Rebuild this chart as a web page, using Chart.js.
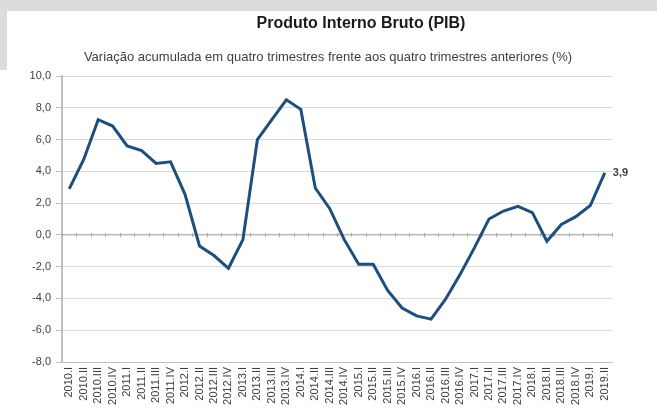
<!DOCTYPE html>
<html>
<head>
<meta charset="utf-8">
<script src="https://cdn.jsdelivr.net/npm/chart.js@4/dist/chart.umd.min.js"></script>
<style>
    body { margin: 0; background: #ffffff; font-family: "Liberation Sans", Arial, sans-serif; }
    #wrap { position: relative; width: 657px; height: 411px; overflow: hidden; background: #ffffff; }
    .band-top { position: absolute; left: 0; top: 0; width: 657px; height: 11px; background: #dcdcdc; }
    .band-left { position: absolute; left: 0; top: 0; width: 7px; height: 70px; background: #dcdcdc; }
    .title { position: absolute; left: 361px; top: 14px; transform: translateX(-50%); white-space: nowrap;
             font-weight: bold; font-size: 16px; color: #1a1a1a; }
    .subtitle { position: absolute; left: 328px; top: 49px; transform: translateX(-50%); white-space: nowrap;
                font-size: 13px; color: #404040; }
    #myChart { position: absolute; left: 0; top: 0; }
</style>
</head>
<body>
<div id="wrap">
    <div class="band-top"></div>
    <div class="band-left"></div>
    <canvas id="myChart" width="657" height="411"></canvas>
    <div class="title">Produto Interno Bruto (PIB)</div>
    <div class="subtitle">Variação acumulada em quatro trimestres frente aos quatro trimestres anteriores (%)</div>
</div>
<script>
var quarters = [
    "2010.I", "2010.II", "2010.III", "2010.IV",
    "2011.I", "2011.II", "2011.III", "2011.IV",
    "2012.I", "2012.II", "2012.III", "2012.IV",
    "2013.I", "2013.II", "2013.III", "2013.IV",
    "2014.I", "2014.II", "2014.III", "2014.IV",
    "2015.I", "2015.II", "2015.III", "2015.IV",
    "2016.I", "2016.II", "2016.III", "2016.IV",
    "2017.I", "2017.II", "2017.III", "2017.IV",
    "2018.I", "2018.II", "2018.III", "2018.IV",
    "2019.I", "2019.II"
];

// variacao acumulada em quatro trimestres (%)
var pib = [
    2.9, 4.75, 7.25, 6.85,
    5.6, 5.3, 4.5, 4.6,
    2.55, -0.7, -1.3, -2.1,
    -0.3, 6.0, 7.25, 8.5,
    7.9, 2.95, 1.65, -0.3,
    -1.85, -1.85, -3.5, -4.6,
    -5.1, -5.3, -4.05, -2.5,
    -0.8, 1.0, 1.5, 1.8,
    1.4, -0.4, 0.66, 1.15,
    1.85, 3.9
];

var yTicks = [-8, -6, -4, -2, 0, 2, 4, 6, 8, 10];

var lineColor = "rgb(30, 78, 124)";

function fmt(v) {
    return v.toFixed(1).replace(".", ",");
}

// linha do zero com as marquinhas de cada trimestre
var zeroLine = {
    id: "zeroLine",
    beforeDatasetsDraw: function(chart) {
        var ctx = chart.ctx;
        var x = chart.scales.x;
        var y0 = chart.scales.y.getPixelForValue(0);
        var step = x.getPixelForValue(1) - x.getPixelForValue(0);
        ctx.save();
        ctx.strokeStyle = "#a6a6a6";
        ctx.lineWidth = 1;
        ctx.beginPath();
        ctx.moveTo(chart.chartArea.left, y0);
        ctx.lineTo(chart.chartArea.right, y0);
        for (var i = 0; i <= quarters.length; i++) {
            var px = Math.round(x.getPixelForValue(i) - step / 2) + 0.5;
            ctx.moveTo(px, y0 - 2);
            ctx.lineTo(px, y0 + 2);
        }
        ctx.stroke();
        ctx.restore();
    }
};

// rotulo do ultimo ponto
var lastLabel = {
    id: "lastLabel",
    afterDatasetsDraw: function(chart) {
        var meta = chart.getDatasetMeta(0);
        var pt = meta.data[meta.data.length - 1];
        var ctx = chart.ctx;
        ctx.save();
        ctx.font = "bold 11px 'Liberation Sans', Arial, sans-serif";
        ctx.fillStyle = "#404040";
        ctx.textBaseline = "middle";
        ctx.fillText(fmt(pib[pib.length - 1]), pt.x + 8, pt.y);
        ctx.restore();
    }
};

var config = {
    type: "line",
    data: {
        labels: quarters,
        datasets: [{
            data: pib,
            borderColor: lineColor,
            borderWidth: 3,
            pointRadius: 0,
            tension: 0,
            fill: false
        }]
    },
    options: {
        responsive: false,
        animation: false,
        layout: { padding: { top: 76, right: 45, left: 0, bottom: 0 } },
        plugins: {
            legend: { display: false },
            tooltip: { enabled: false }
        },
        scales: {
            x: {
                offset: true,
                grid: { display: true, drawOnChartArea: false, drawTicks: false },
                border: { display: true, color: "#bfbfbf", width: 1 },
                ticks: {
                    autoSkip: false,
                    minRotation: 90,
                    maxRotation: 90,
                    padding: 5,
                    color: "#404040",
                    font: { family: "'Liberation Sans', Arial, sans-serif", size: 11 }
                },
                afterFit: function(scale) { scale.height = 49; }
            },
            y: {
                min: -8,
                max: 10,
                afterBuildTicks: function(scale) {
                    scale.ticks = yTicks.map(function(v) { return { value: v }; });
                },
                grid: {
                    color: "#d9d9d9",
                    tickColor: "#bfbfbf",
                    tickLength: 6,
                    lineWidth: 1
                },
                border: { display: true, color: "#bfbfbf", width: 2 },
                ticks: {
                    padding: 5,
                    color: "#404040",
                    font: { family: "'Liberation Sans', Arial, sans-serif", size: 11 },
                    callback: function(v) { return fmt(v); }
                },
                afterFit: function(scale) { scale.width = 62; }
            }
        }
    },
    plugins: [zeroLine, lastLabel]
};

if (document.getElementById("myChart")) {
    var myChart = new Chart(document.getElementById("myChart").getContext("2d"), config);
}
</script>
</body>
</html>
